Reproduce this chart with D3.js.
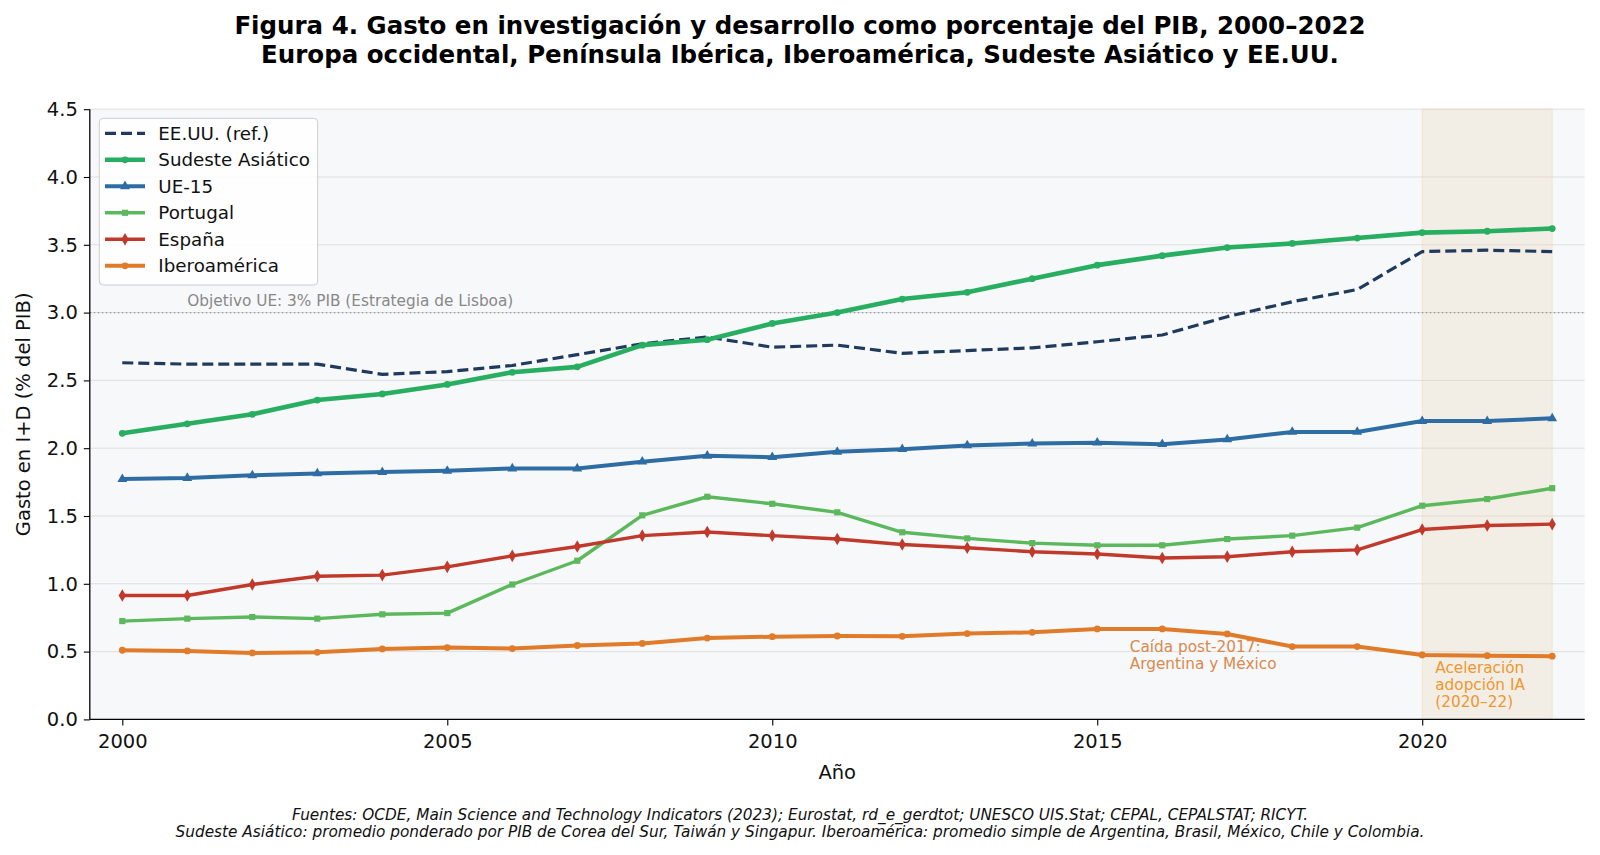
<!DOCTYPE html>
<html><head><meta charset="utf-8">
<script src="https://cdn.jsdelivr.net/npm/d3@7"></script>
<style>
body{margin:0;background:#fff;}
svg{display:block;font-family:"DejaVu Sans",sans-serif;}
</style></head>
<body><svg id="c" width="1600" height="855"></svg>
<script>
const years = d3.range(2000, 2023);
const eeuu      = [2.63,2.62,2.62,2.62,2.545,2.565,2.61,2.69,2.77,2.82,2.745,2.76,2.70,2.72,2.74,2.785,2.835,2.97,3.08,3.17,3.45,3.46,3.45];
const sudeste   = [2.11,2.18,2.25,2.355,2.40,2.47,2.56,2.60,2.76,2.80,2.92,3.00,3.10,3.15,3.25,3.35,3.42,3.48,3.51,3.55,3.59,3.60,3.62];
const ue15      = [1.772,1.78,1.80,1.814,1.824,1.833,1.85,1.85,1.90,1.944,1.934,1.973,1.993,2.02,2.034,2.04,2.03,2.064,2.12,2.12,2.20,2.20,2.22];
const portugal  = [0.725,0.743,0.755,0.743,0.775,0.784,0.995,1.17,1.505,1.642,1.59,1.527,1.38,1.335,1.30,1.284,1.284,1.33,1.355,1.414,1.576,1.625,1.705];
const espana    = [0.914,0.914,0.995,1.056,1.064,1.125,1.206,1.275,1.355,1.382,1.355,1.33,1.29,1.266,1.236,1.22,1.19,1.20,1.236,1.25,1.40,1.43,1.44];
const iberoam   = [0.51,0.505,0.49,0.495,0.52,0.53,0.522,0.545,0.56,0.60,0.61,0.615,0.613,0.633,0.642,0.667,0.667,0.63,0.537,0.537,0.475,0.47,0.466];
const yTicks = [0,0.5,1,1.5,2,2.5,3,3.5,4,4.5];
const xTicks = [2000,2005,2010,2015,2020];

const seriesNames = ["EE.UU. (ref.)","Sudeste Asiático","UE-15","Portugal","España","Iberoamérica"];
const seriesVals = [eeuu, sudeste, ue15, portugal, espana, iberoam];
const styles = [
  {color:"#1f3a5c", w:3.2, dash:"11,5", marker:null},
  {color:"#27ae60", w:4.6, dash:null, marker:"circle"},
  {color:"#2e6ca4", w:4,   dash:null, marker:"triangle"},
  {color:"#5cb85c", w:3.4, dash:null, marker:"square"},
  {color:"#c0392b", w:3.4, dash:null, marker:"diamond"},
  {color:"#e07b2a", w:4,   dash:null, marker:"circle"}
];

const svg = d3.select("#c");
const L=89.8, R=1584.7, T=109.2, B=719.4;
const x = d3.scaleLinear().domain([1999.5, 2022.5]).range([L, R]);
const y = d3.scaleLinear().domain([0, 4.5]).range([B, T]);

// background
svg.append("rect").attr("x",L).attr("y",T).attr("width",R-L).attr("height",B-T).attr("fill","#f7f8fa");

// grid
svg.append("g").selectAll("line").data(yTicks).join("line")
  .attr("x1",L).attr("x2",R).attr("y1",d=>y(d)).attr("y2",d=>y(d))
  .attr("stroke","#dfdfdf").attr("stroke-width",1);

// shaded band 2020-2022
svg.append("rect").attr("x",x(2020)).attr("y",T).attr("width",x(2022)-x(2020)).attr("height",B-T)
  .attr("fill","#e8c98f").attr("fill-opacity",0.2).attr("stroke","#e8c98f").attr("stroke-opacity",0.3);

// target line
svg.append("line").attr("x1",L).attr("x2",R).attr("y1",y(3)).attr("y2",y(3))
  .attr("stroke","#999").attr("stroke-width",1.2).attr("stroke-dasharray","1.5,2.5");
svg.append("text").attr("x",x(2001)).attr("y",y(3)-7).attr("font-size",15.3).attr("fill","#888")
  .text("Objetivo UE: 3% PIB (Estrategia de Lisboa)");

// markers
function markerPath(type, size){
  const sym = {circle:d3.symbolCircle, triangle:d3.symbolTriangle, square:d3.symbolSquare, diamond:d3.symbolDiamond}[type];
  return d3.symbol().type(sym).size(size)();
}
const msize = {circle:36, triangle:42, square:38, diamond:46};

const line = d3.line().x(d=>x(d[0])).y(d=>y(d[1]));
seriesVals.forEach((vals,i)=>{
  const st = styles[i];
  const pts = years.map((yr,j)=>[yr, vals[j]]);
  const g = svg.append("g");
  g.append("path").attr("d",line(pts)).attr("fill","none").attr("stroke",st.color)
    .attr("stroke-width",st.w).attr("stroke-dasharray",st.dash).attr("stroke-linejoin","round");
  if(st.marker){
    g.selectAll("path.m").data(pts).join("path").attr("class","m")
      .attr("d",markerPath(st.marker,msize[st.marker]))
      .attr("transform",d=>`translate(${x(d[0])},${y(d[1])})`).attr("fill",st.color);
  }
});

// annotations
const ann1 = svg.append("text").attr("font-size",15.3).attr("fill","#d98a4c");
ann1.append("tspan").attr("x",x(2015.5)).attr("y",651.5).text("Caída post-2017:");
ann1.append("tspan").attr("x",x(2015.5)).attr("y",669).text("Argentina y México");
const ann2 = svg.append("text").attr("font-size",15.3).attr("fill","#f0962e");
["Aceleración","adopción IA","(2020–22)"].forEach((t,k)=>{
  ann2.append("tspan").attr("x",x(2020.2)).attr("y",672.5+k*17).text(t);
});

// axes
const yAx = svg.append("g").attr("transform",`translate(${L},0)`)
  .call(d3.axisLeft(y).tickValues(yTicks).tickFormat(d3.format(".1f")).tickSize(6).tickPadding(6));
const xAx = svg.append("g").attr("transform",`translate(0,${B})`)
  .call(d3.axisBottom(x).tickValues(xTicks).tickFormat(d3.format("d")).tickSize(6).tickPadding(9));
[yAx,xAx].forEach(a=>{
  a.select(".domain").attr("stroke","#000").attr("stroke-width",1.3);
  a.selectAll(".tick line").attr("stroke","#000").attr("stroke-width",1.1);
  a.selectAll(".tick text").attr("font-size",19.5).attr("fill","#111").attr("font-family","DejaVu Sans");
});
yAx.select(".domain").attr("d",`M0,${B}V${T}`);
xAx.select(".domain").attr("d",`M${L},0H${R}`);

// axis labels
svg.append("text").attr("x",(L+R)/2).attr("y",779).attr("text-anchor","middle").attr("font-size",19.5).attr("fill","#111").text("Año");
svg.append("text").attr("transform",`translate(29.5,${(T+B)/2}) rotate(-90)`).attr("text-anchor","middle")
  .attr("font-size",19.5).attr("fill","#111").text("Gasto en I+D (% del PIB)");

// title
const title = svg.append("text").attr("text-anchor","middle").attr("font-size",24.5).attr("font-weight","bold").attr("fill","#000");
title.append("tspan").attr("x",800).attr("y",34).text("Figura 4. Gasto en investigación y desarrollo como porcentaje del PIB, 2000–2022");
title.append("tspan").attr("x",800).attr("y",62.5).text("Europa occidental, Península Ibérica, Iberoamérica, Sudeste Asiático y EE.UU.");

// footer
const foot = svg.append("text").attr("text-anchor","middle").attr("font-size",15.3).attr("font-style","italic").attr("fill","#111");
foot.append("tspan").attr("x",800).attr("y",819.5).text("Fuentes: OCDE, Main Science and Technology Indicators (2023); Eurostat, rd_e_gerdtot; UNESCO UIS.Stat; CEPAL, CEPALSTAT; RICYT.");
foot.append("tspan").attr("x",800).attr("y",837).text("Sudeste Asiático: promedio ponderado por PIB de Corea del Sur, Taiwán y Singapur. Iberoamérica: promedio simple de Argentina, Brasil, México, Chile y Colombia.");

// legend
const lg = svg.append("g").attr("transform","translate(99.3,118.3)");
lg.append("rect").attr("width",218.4).attr("height",166.7).attr("rx",4).attr("fill","#fff").attr("fill-opacity",0.85)
  .attr("stroke","#ccc").attr("stroke-width",1);
seriesNames.forEach((nm,i)=>{
  const st = styles[i];
  const yy = 15 + i*26.5;
  lg.append("line").attr("x1",5.7).attr("x2",45.7).attr("y1",yy).attr("y2",yy).attr("stroke",st.color)
    .attr("stroke-width",st.w).attr("stroke-dasharray",st.dash);
  if(st.marker) lg.append("path").attr("d",markerPath(st.marker,msize[st.marker])).attr("transform",`translate(25.7,${yy})`).attr("fill",st.color);
  lg.append("text").attr("x",59).attr("y",yy+6.6).attr("font-size",18.3).attr("fill","#111").text(nm);
});
</script></body></html>
